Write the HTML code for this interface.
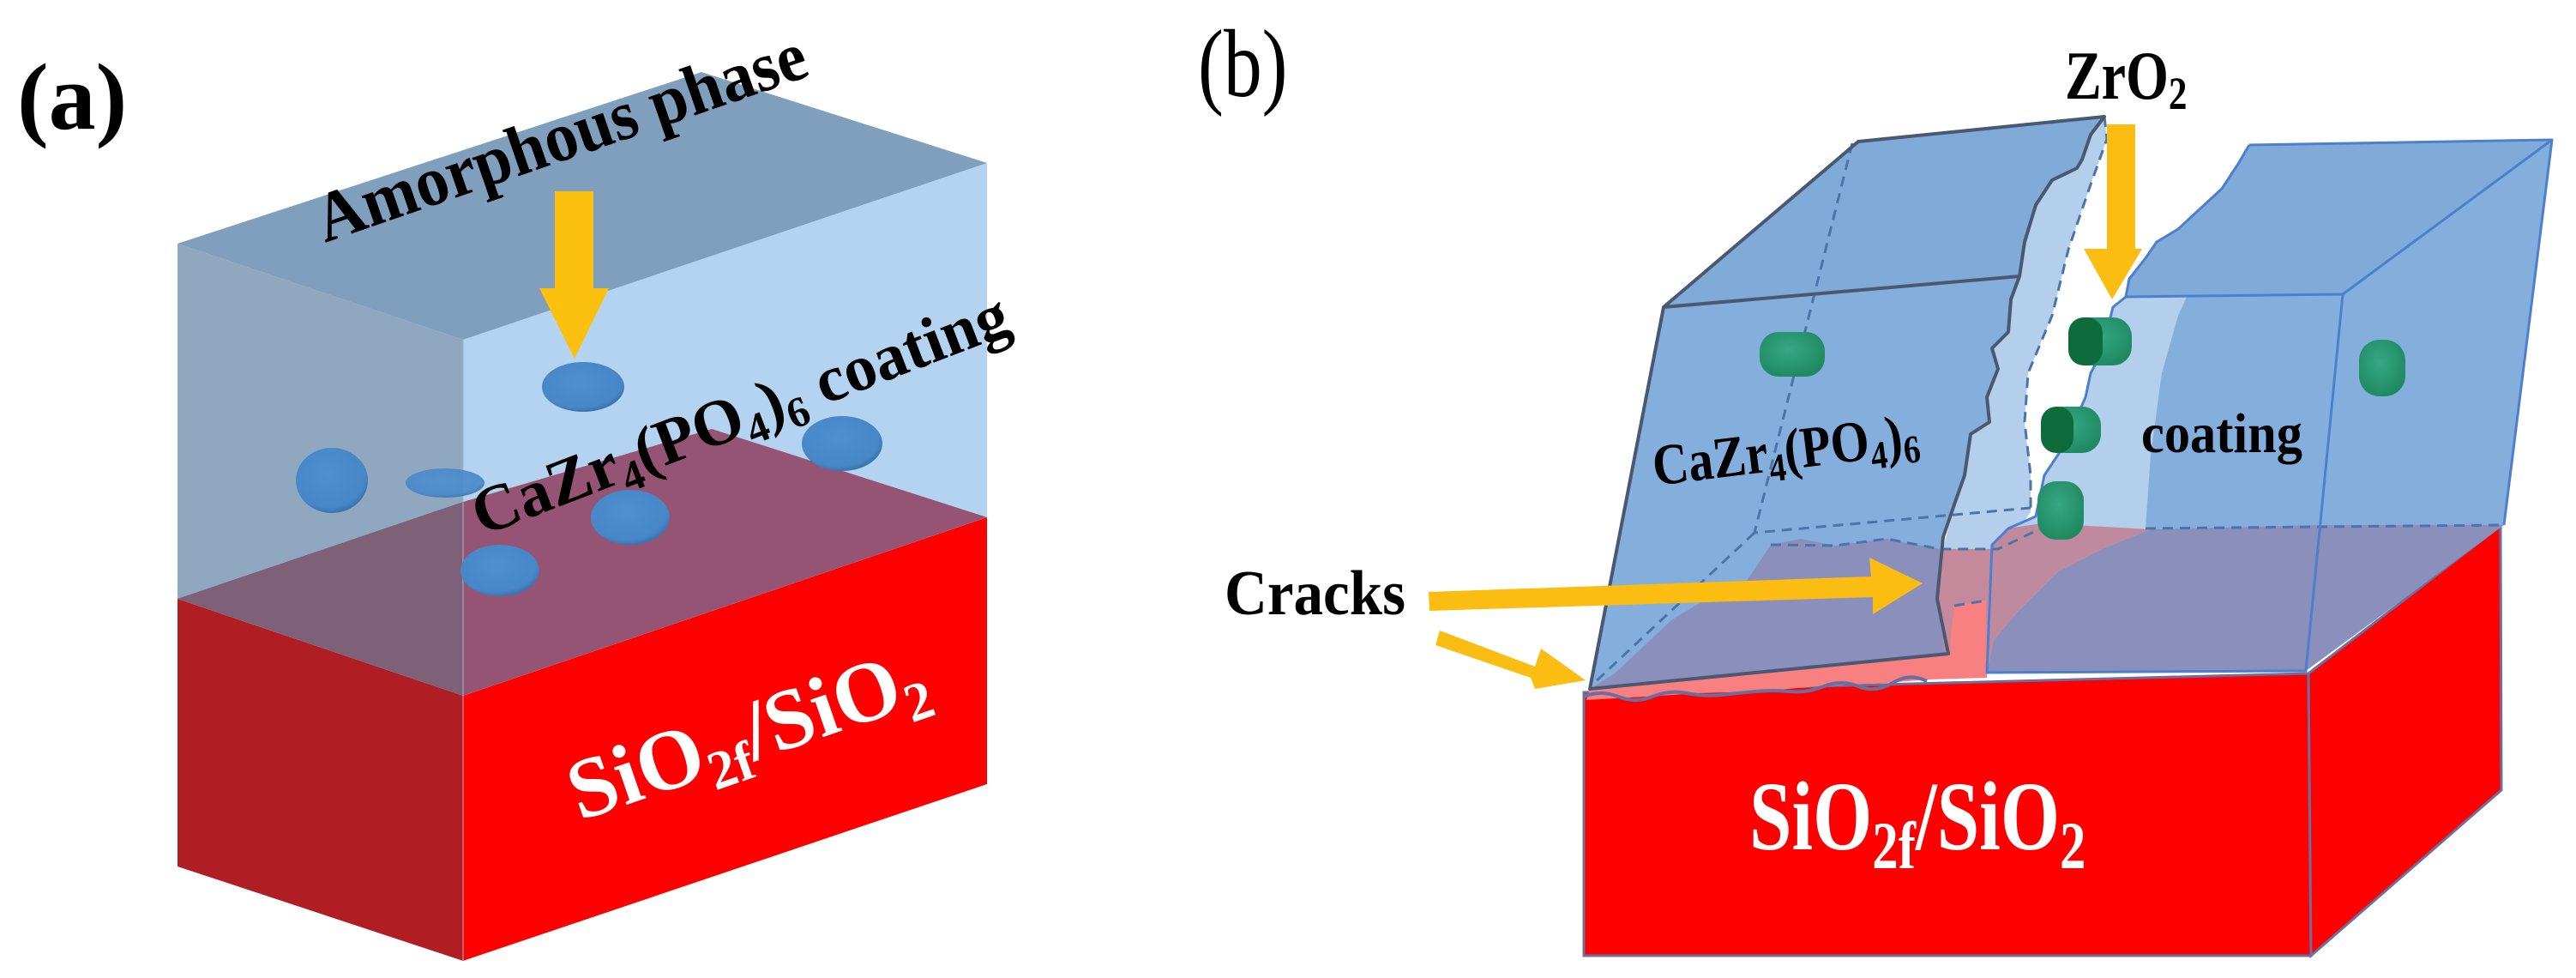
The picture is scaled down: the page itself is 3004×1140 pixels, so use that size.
<!DOCTYPE html>
<html><head><meta charset="utf-8"><style>html,body{margin:0;padding:0;background:#fff}svg{display:block}
.s{font-family:"Liberation Serif","Times New Roman","DejaVu Serif",serif}
.b{font-family:"Liberation Serif","Times New Roman","DejaVu Serif",serif;font-weight:bold}
</style></head>
<body>
<svg width="3004" height="1140" viewBox="0 0 3004 1140" xmlns="http://www.w3.org/2000/svg">
<defs>
<radialGradient id="bb" cx="0.45" cy="0.4" r="0.6"><stop offset="0" stop-color="#4d8fd0"/><stop offset="0.85" stop-color="#4787c8"/><stop offset="1" stop-color="#3a74b0"/></radialGradient>
<radialGradient id="gg" cx="0.45" cy="0.4" r="0.6"><stop offset="0" stop-color="#36a884"/><stop offset="1" stop-color="#1f8a62"/></radialGradient>
</defs>
<text x="20" y="150" class="b" font-size="110">(a)</text>
<polygon points="207,698 540,811 540,1120 207,1010" fill="#b01e23"/>
<polygon points="540,811 1151,603 1151,914 540,1120" fill="#fe0000"/>
<polygon points="207,284 540,396 540,811 207,698" fill="#8fa8c0"/>
<polygon points="540,396 1151,190 1151,603 540,811" fill="#b4d3f0"/>
<polygon points="207,284 540,396 1151,190 818,84" fill="#7f9fbd"/>
<polygon points="207,698 540,811 540,585" fill="#7e6078"/>
<polygon points="540,585 540,811 1151,603 830,500" fill="#955474"/>
<line x1="540" y1="396" x2="540" y2="1120" stroke="#9fb6cc" stroke-width="2" opacity="0.5"/>
<ellipse cx="387" cy="560" rx="42" ry="38" fill="url(#bb)"/>
<ellipse cx="519" cy="563" rx="46" ry="17" fill="url(#bb)" opacity="0.9"/>
<ellipse cx="680" cy="451" rx="48" ry="29" fill="url(#bb)"/>
<ellipse cx="735" cy="603" rx="46" ry="32" fill="url(#bb)"/>
<ellipse cx="583" cy="665" rx="46" ry="30" fill="url(#bb)"/>
<ellipse cx="982" cy="517" rx="47" ry="32" fill="url(#bb)"/>
<polygon points="647,223 692,223 692,336 710,336 670,418 629,336 647,336" fill="#fbc10e"/>
<text class="b" font-size="82" transform="translate(379,283) rotate(-19)" textLength="600" lengthAdjust="spacingAndGlyphs">Amorphous phase</text>
<text class="b" font-size="76" transform="translate(562,625) rotate(-21)">CaZr<tspan font-size="50" dy="14">4</tspan><tspan dy="-14">(PO</tspan><tspan font-size="50" dy="14">4</tspan><tspan dy="-14">)</tspan><tspan font-size="50" dy="14">6</tspan><tspan dy="-14"> coating</tspan></text>
<text class="b" font-size="100" fill="#fff" transform="translate(676,957) rotate(-19)">SiO<tspan font-size="64" dy="18">2f</tspan><tspan dy="-18">/SiO</tspan><tspan font-size="64" dy="18">2</tspan></text>

<text x="1397" y="112" class="s" font-size="112" transform="translate(1397,0) scale(0.8,1) translate(-1397,0)">(b)</text>
<text x="2408" y="115" class="b" font-size="80" transform="translate(2408,0) scale(0.8,1) translate(-2408,0)">ZrO<tspan font-size="54" dy="12">2</tspan></text>

<polygon points="1847,807 2692,785 2695,1114 1847,1114" fill="#fe0000" stroke="#6a6fa0" stroke-width="3"/>
<polygon points="2692,785 2916,613 2917,921 2695,1114" fill="#fe0000" stroke="#6a6fa0" stroke-width="3"/>

<polygon points="1940,358 2355,322 2345,349 2342,387 2323,406 2330,430 2317,463 2320,492 2298,506 2291,554 2279,588 2266,626 2259,698 2272,762 1854,803" fill="#84afdc"/>
<polygon points="2065,635 2100,628 2140,636 2200,628 2262,640 2259,698 2272,762 1854,803 1883,785 1950,722 2000,692 2035,680" fill="#8a90bb"/>
<polygon points="2167,165 2454,136 2438,157 2428,186 2422,196 2393,210 2374,239 2361,282 2355,322 1940,358" fill="#80abd9"/>
<polygon points="2454,136 2457,162 2438,215 2412,291 2393,368 2365,435 2361,492 2368,554 2368,597 2361,607 2330,640 2266,640 2279,588 2291,554 2298,506 2320,492 2317,463 2330,430 2323,406 2342,387 2345,349 2355,322 2361,282 2374,239 2393,210 2422,196 2428,186 2438,157" fill="#b3cfec"/>
<polygon points="2262,640 2330,640 2380,616 2330,700 2317,784 2272,790 2259,698" fill="#c4899b"/>
<polygon points="2479,346 2732,343 2689,782 2317,784 2323,635 2342,616 2374,602 2384,554 2406,521 2432,463 2438,435 2451,411 2464,358" fill="#84afdc"/>
<polygon points="2479,346 2464,358 2451,411 2438,435 2432,463 2406,521 2384,554 2374,602 2342,616 2323,635 2317,784 2325,746 2353,713 2399,667 2451,640 2508,617 2502,616 2508,530 2521,435 2540,368 2575,291 2604,220 2623,169 2610,191 2591,220 2566,243 2540,267 2515,282 2502,301 2483,325" fill="#b3cfec"/>
<polygon points="2508,617 2706,612 2689,782 2317,784 2325,746 2353,713 2399,667 2451,640" fill="#8a90bb"/>
<polygon points="2508,617 2451,640 2399,667 2353,713 2325,746 2317,784 2323,635 2342,616 2380,610" fill="#c08a9e"/>
<polygon points="2623,169 2976,163 2732,343 2479,346 2483,325 2502,301 2515,282 2540,267 2566,243 2591,220 2610,191" fill="#80abd9"/>
<polygon points="2732,343 2976,163 2920,612 2706,612" fill="#84afdc"/>
<polygon points="2706,612 2920,612 2689,782" fill="#8a90bb"/>
<polygon points="1854,803 2272,762 2317,770 2317,790 2250,792 2200,796 2120,800 2050,806 1980,808 1920,812 1850,816" fill="#f98080"/>
<polygon points="2279,706 2316,700 2317,784 2272,790 2275,740" fill="#f98080"/>
<path d="M1847,812 q20,-8 40,0 t40,0 t40,-4 t40,2 t40,-4 t40,0 t40,-6 t40,0 t40,-4 t40,-2" fill="none" stroke="#6a6fa0" stroke-width="4"/>
<g fill="none" stroke="#4d74a8" stroke-width="3" stroke-dasharray="12,8">
<polyline points="2160,167 2046,621 2368,592"/>
<polyline points="2046,621 1857,798"/>
<polyline points="2065,635 2140,636 2200,628 2262,640 2330,640 2380,616"/>
<polyline points="2454,136 2457,162 2438,215 2412,291 2393,368 2365,435 2361,492 2368,554 2368,597"/>
<polyline points="2502,616 2920,612"/>
<polyline points="2279,706 2316,700"/>
</g>
<g fill="none" stroke="#4b5872" stroke-width="4" stroke-linejoin="round">
<polyline points="1940,358 2167,165 2454,136 2438,157 2428,186 2422,196 2393,210 2374,239 2361,282 2355,322 2345,349 2342,387 2323,406 2330,430 2317,463 2320,492 2298,506 2291,554 2279,588 2266,626 2259,698 2272,762 1854,803 1940,358 2355,322"/>
</g>
<g fill="none" stroke="#4d7fcc" stroke-width="3" stroke-linejoin="round">
<polyline points="2623,169 2976,163 2732,343 2479,346"/>
<polyline points="2623,169 2610,191 2591,220 2566,243 2540,267 2515,282 2502,301 2483,325 2479,346 2464,358 2451,411 2438,435 2432,463 2406,521 2384,554 2374,602 2342,616 2323,635 2317,784 2689,782 2732,343"/>
<polyline points="2976,163 2920,612"/>
</g>
<rect x="2052" y="387" width="76" height="52" rx="22" fill="url(#gg)"/>
<rect x="2414" y="370" width="72" height="56" rx="22" fill="url(#gg)"/>
<rect x="2412" y="370" width="40" height="56" rx="18" fill="#0d6b3c"/>
<rect x="2382" y="474" width="68" height="54" rx="22" fill="url(#gg)"/>
<rect x="2380" y="474" width="38" height="54" rx="18" fill="#0d6b3c"/>
<rect x="2376" y="561" width="54" height="68" rx="22" fill="url(#gg)"/>
<rect x="2751" y="396" width="54" height="66" rx="24" fill="url(#gg)"/>
<text class="b" font-size="68" transform="translate(1930,566) rotate(-7) scale(0.85,1)">CaZr<tspan font-size="46" dy="12">4</tspan><tspan dy="-12">(PO</tspan><tspan font-size="46" dy="12">4</tspan><tspan dy="-12">)</tspan><tspan font-size="46" dy="10">6</tspan></text>
<text x="2497" y="527" class="b" font-size="66" textLength="188" lengthAdjust="spacingAndGlyphs">coating</text>
<text x="1428" y="716" class="b" font-size="74" textLength="211" lengthAdjust="spacingAndGlyphs">Cracks</text>
<text class="b" font-size="114" fill="#fff" transform="translate(2040,990) scale(0.78,1)">SiO<tspan font-size="78" dy="22">2f</tspan><tspan dy="-22">/SiO</tspan><tspan font-size="78" dy="22">2</tspan></text>
<polygon points="2457,145 2490,145 2490,290 2498,290 2463,349 2430,290 2457,290" fill="#fbbd12"/>
<polygon points="1666,690 2182,672 2180,650 2242,680 2184,716 2184,696 1667,712" fill="#fbbd12"/>
<polygon points="1679,735 1790,777 1797,756 1849,793 1790,803 1785,790 1674,752" fill="#fbbd12"/>
</svg>
</body></html>
